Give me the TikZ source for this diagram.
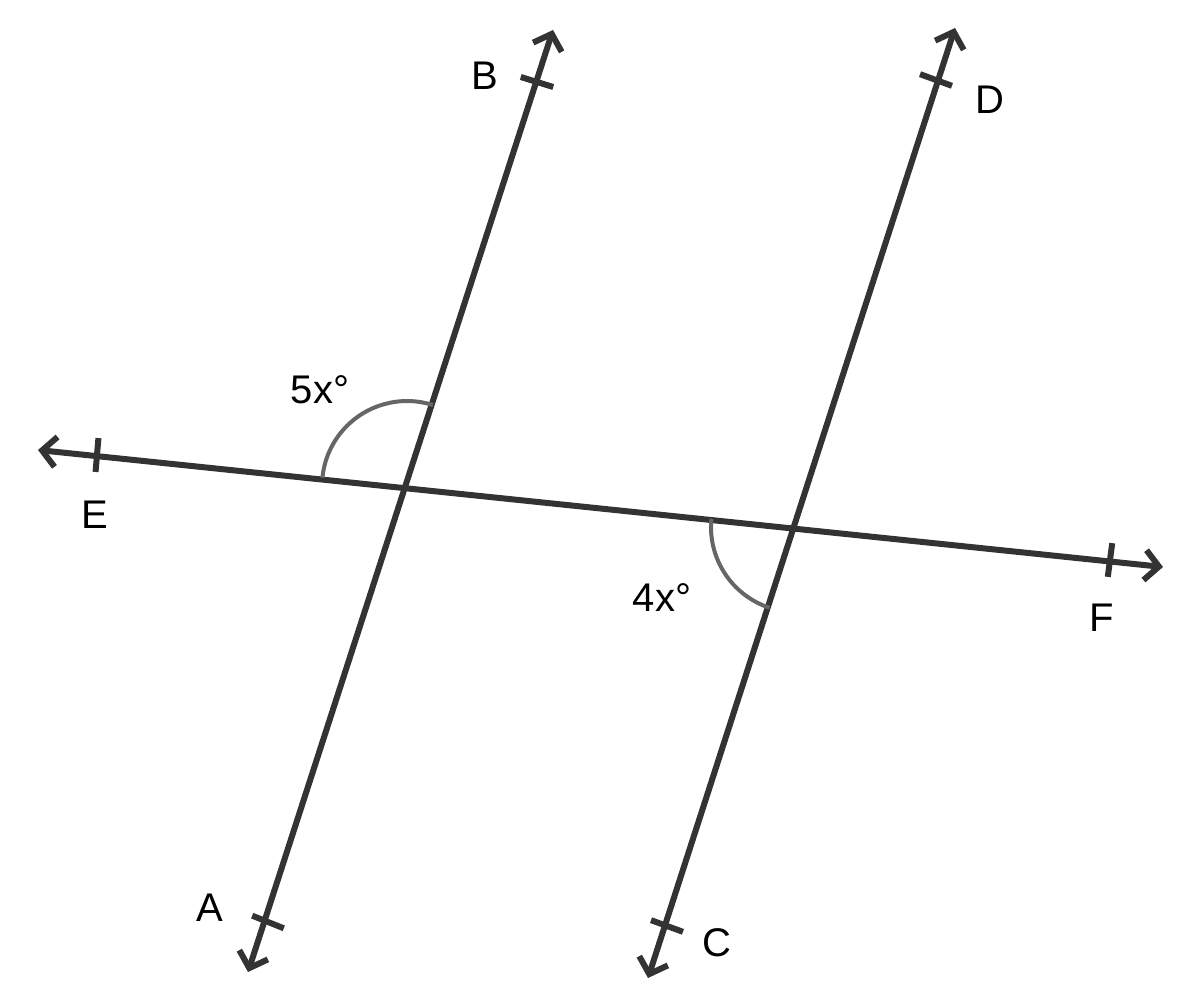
\documentclass[tikz,border=0pt]{standalone}
\usepackage{fontspec}
\setmainfont{Liberation Sans}
\usetikzlibrary{arrows.meta,calc}
\begin{document}
\begin{tikzpicture}[x=1pt,y=1pt,
  ln/.style={draw=black!80,line width=6pt,{Straight Barb[length=14pt,width=30pt,line width=6pt]}-{Straight Barb[length=14pt,width=30pt,line width=6pt]}},
  tk/.style={draw=black!80,line width=6pt},
  ang/.style={draw=black!60,line width=4pt},
  lab/.style={font=\fontsize{40}{40}\selectfont}]
\useasboundingbox (0,0) rectangle (1200,-1001);
\coordinate (Bt) at (553,-30); \coordinate (At) at (248,-972);
\coordinate (Dt) at (955,-28); \coordinate (Ct) at (648,-978);
\coordinate (Et) at (38,-450); \coordinate (Ft) at (1163,-567);
\coordinate (P1) at (407,-486); \coordinate (P2) at (796,-527);
\draw[ln] (At) -- (Bt);
\draw[ln] (Ct) -- (Dt);
\draw[ln] (Et) -- (Ft);
\foreach \p/\q in {{537,-82}/Bt,{268,-922}/At,{936,-80}/Dt,{667,-926}/Ct,{97,-455}/Et,{1110,-560}/Ft}{
  \coordinate (t) at (\p);
  \draw[tk] ($(t)!17pt!90:(\q)$) -- ($(t)!17pt!-90:(\q)$);
}
\draw[ang] ([shift={(72.2:85)}]P1) arc[start angle=72.2,end angle=174.4,radius=85];
\draw[ang] ([shift={(174.4:85)}]P2) arc[start angle=174.4,end angle=251.8,radius=85];
\node[lab] (B) at (485,-76) {B};
\node[lab] (D) at (990,-100) {D};
\node[lab] (E) at (95,-515) {E};
\node[lab] (F) at (1102,-618) {F};
\node[lab] (A) at (210,-908) {A};
\node[lab] (C) at (717,-943) {C};
\node[lab] (a5) at (320,-390) {5x°};
\node[lab] (a4) at (662,-598) {4x°};
\end{tikzpicture}
\end{document}
